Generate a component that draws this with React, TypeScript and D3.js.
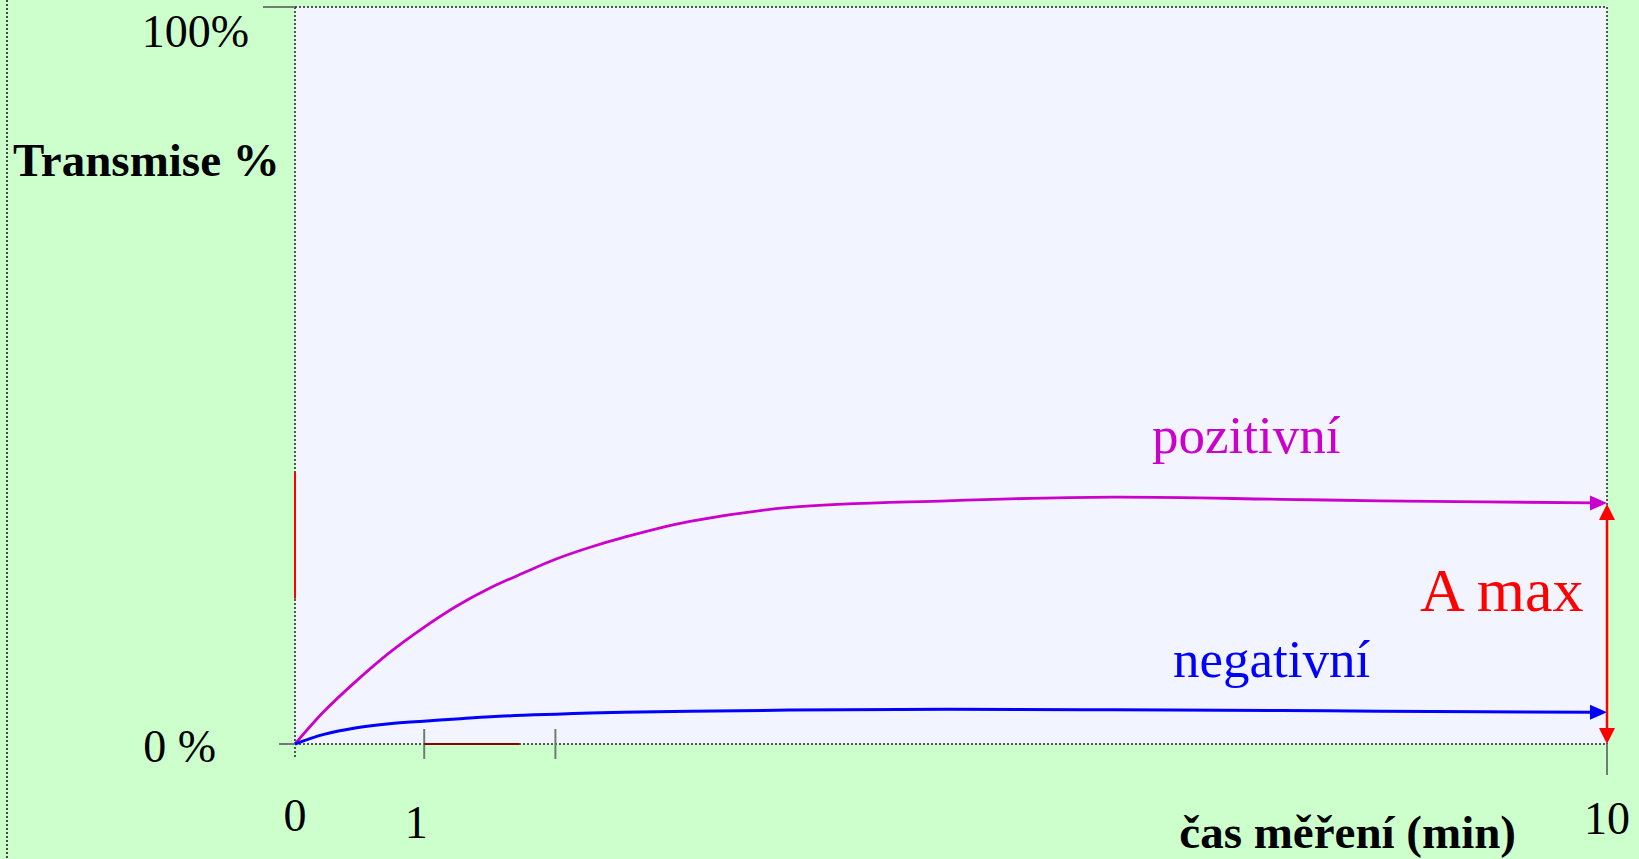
import * as d3 from "d3";
import { useEffect, useRef } from "react";

// time (min) and transmission (%)
const timeMin = [0, 0.22, 0.47, 0.72, 0.98, 1.23, 1.49, 1.74, 1.99, 2.25, 2.5, 3.01, 3.77, 4.97, 6.23, 7.51, 8.27, 10];
const positive = [0, 4.4, 8.6, 12.4, 15.8, 18.7, 21.2, 23.2, 25.1, 26.7, 28.0, 30.2, 32.1, 33.0, 33.5, 33.2, 33.0, 32.7];
const negative = [0, 1.3, 2.2, 2.75, 3.1, 3.4, 3.7, 3.9, 4.05, 4.2, 4.3, 4.45, 4.6, 4.7, 4.65, 4.55, 4.45, 4.3];

const xTickValues = [0, 1, 2, 10];
const xTickLabels = ["0", "1", "", "10"];
const yTickValues = [0, 100];
const yTickLabels = ["0 %", "100%"];

const labels = {
  yTitle: "Transmise %",
  xTitle: "čas měření (min)",
  positive: "pozitivní",
  negative: "negativní",
  amax: "A max",
};

const W = 1639;
const H = 859;
const FONT = "'Liberation Serif', 'Times New Roman', serif";

export default function App() {
  const ref = useRef<SVGSVGElement | null>(null);

  useEffect(() => {
    const svg = d3.select(ref.current);
    svg.selectAll("*").remove();

    const margin = { top: 7, right: 32, bottom: 115, left: 295 };
    const x = d3.scaleLinear().domain([0, 10]).range([margin.left, W - margin.right]);
    const y = d3.scaleLinear().domain([0, 100]).range([H - margin.bottom, margin.top]);

    const x0 = x(0), x1 = x(10), y0 = y(0), y1 = y(100);

    // page background
    svg.append("rect").attr("width", W).attr("height", H).attr("fill", "#ccffcc");
    svg
      .append("line")
      .attr("x1", 7)
      .attr("x2", 7)
      .attr("y1", 0)
      .attr("y2", H)
      .attr("stroke", "#111")
      .attr("stroke-width", 1.5)
      .attr("stroke-dasharray", "2 2");

    // plot area
    svg
      .append("rect")
      .attr("x", x0)
      .attr("y", y1)
      .attr("width", x1 - x0)
      .attr("height", y0 - y1)
      .attr("fill", "#f2f5ff");

    const dotted = (xa: number, ya: number, xb: number, yb: number) =>
      svg
        .append("line")
        .attr("x1", xa)
        .attr("y1", ya)
        .attr("x2", xb)
        .attr("y2", yb)
        .attr("stroke", "#222")
        .attr("stroke-width", 1.5)
        .attr("stroke-dasharray", "2 2");

    dotted(x0, y1, x1, y1);
    dotted(x1, y1, x1, y0);
    dotted(x0, y0, x1, y0);
    dotted(x0, y1, x0, y0 + 15);

    // grey ticks
    const grey = "#6f7f6f";
    svg.append("line").attr("x1", x0 - 32).attr("x2", x0).attr("y1", y1).attr("y2", y1)
      .attr("stroke", grey).attr("stroke-width", 2);
    svg.append("line").attr("x1", x0 - 16).attr("x2", x0).attr("y1", y0).attr("y2", y0)
      .attr("stroke", grey).attr("stroke-width", 2);
    xTickValues.filter((v) => v > 0 && v < 10).forEach((v) => {
      svg.append("line").attr("x1", x(v) - 2).attr("x2", x(v) - 2).attr("y1", y0 - 15).attr("y2", y0 + 15)
        .attr("stroke", grey).attr("stroke-width", 2);
    });
    svg.append("line").attr("x1", x1).attr("x2", x1).attr("y1", y0).attr("y2", y0 + 31)
      .attr("stroke", grey).attr("stroke-width", 2);

    // odd red segments on the axes
    svg.append("line").attr("x1", x(1) - 2).attr("x2", x(1.71)).attr("y1", y0).attr("y2", y0)
      .attr("stroke", "#8b0000").attr("stroke-width", 2);
    svg.append("line").attr("x1", x0).attr("x2", x0).attr("y1", y(36.9)).attr("y2", y(19.7))
      .attr("stroke", "#ff0000").attr("stroke-width", 2);

    // tick labels
    const xLabelDx = [0, -10, 0, 0];
    const xLabelY = [831, 838, 831, 834];
    xTickValues.forEach((v, i) => {
      if (!xTickLabels[i]) return;
      svg.append("text")
        .attr("x", x(v) + xLabelDx[i])
        .attr("y", xLabelY[i])
        .attr("text-anchor", "middle")
        .attr("font-family", FONT)
        .attr("font-size", 46)
        .attr("fill", "#000")
        .text(xTickLabels[i]);
    });
    const yLabelX = [216, 249];
    const yLabelDy = [18, 40];
    yTickValues.forEach((v, i) => {
      svg.append("text")
        .attr("x", yLabelX[i])
        .attr("y", y(v) + yLabelDy[i])
        .attr("text-anchor", "end")
        .attr("font-family", FONT)
        .attr("font-size", 46)
        .attr("fill", "#000")
        .text(yTickLabels[i]);
    });

    // axis titles
    svg.append("text").attr("x", 13).attr("y", 176)
      .attr("font-family", FONT).attr("font-size", 47).attr("font-weight", "bold")
      .text(labels.yTitle);
    svg.append("text").attr("x", 1516).attr("y", 848).attr("text-anchor", "end")
      .attr("font-family", FONT).attr("font-size", 47).attr("font-weight", "bold")
      .text(labels.xTitle);

    // curves
    const line = d3
      .line<number>()
      .x((_, i) => x(timeMin[i]))
      .y((d) => y(d))
      .curve(d3.curveCatmullRom.alpha(0.5));

    const drawSeries = (values: number[], color: string, width: number) => {
      const n = values.length;
      const endX = x(timeMin[n - 1]);
      const endY = y(values[n - 1]);
      const d = line(values) ?? "";
      const probe = document.createElementNS("http://www.w3.org/2000/svg", "path");
      probe.setAttribute("d", d);
      const len = probe.getTotalLength();
      // stop the line where the arrowhead begins
      svg.append("path")
        .attr("d", d)
        .attr("fill", "none")
        .attr("stroke", color)
        .attr("stroke-width", width)
        .attr("stroke-dasharray", `${len - 14} 10000`);
      svg.append("path")
        .attr("d", `M${endX},${endY} L${endX - 17},${endY - 7.5} L${endX - 17},${endY + 7.5} Z`)
        .attr("fill", color);
    };

    drawSeries(positive, "#cc00cc", 2.8);
    drawSeries(negative, "#0000ff", 3);

    // A max double arrow
    const ax = x(10);
    const aTop = y(positive[positive.length - 1]) + 1;
    svg.append("line").attr("x1", ax).attr("x2", ax).attr("y1", aTop + 12).attr("y2", y0 - 12)
      .attr("stroke", "#ff0000").attr("stroke-width", 2.5);
    svg.append("path")
      .attr("d", `M${ax},${aTop} L${ax - 8},${aTop + 16} L${ax + 8},${aTop + 16} Z`)
      .attr("fill", "#ff0000");
    svg.append("path")
      .attr("d", `M${ax},${y0} L${ax - 8},${y0 - 16} L${ax + 8},${y0 - 16} Z`)
      .attr("fill", "#ff0000");

    // annotations
    svg.append("text").attr("x", 1152).attr("y", 453)
      .attr("font-family", FONT).attr("font-size", 53).attr("fill", "#cc00cc")
      .text(labels.positive);
    svg.append("text").attr("x", 1173).attr("y", 677)
      .attr("font-family", FONT).attr("font-size", 53).attr("fill", "#0000ff")
      .text(labels.negative);
    svg.append("text").attr("x", 1420).attr("y", 611)
      .attr("font-family", FONT).attr("font-size", 62).attr("fill", "#ff0000")
      .text(labels.amax);
  }, []);

  return (
    <div style={{ position: "absolute", left: 0, top: 0 }}>
      <svg ref={ref} width={W} height={H} style={{ display: "block" }} />
    </div>
  );
}
